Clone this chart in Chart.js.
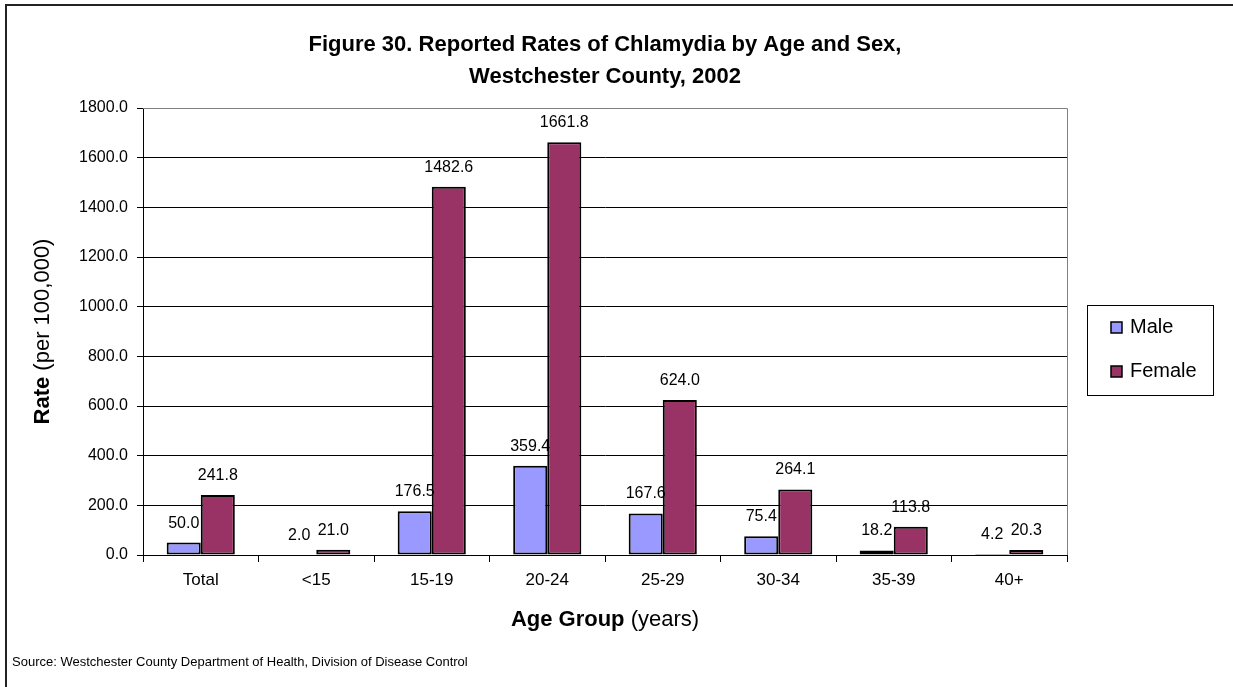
<!DOCTYPE html>
<html>
<head>
<meta charset="utf-8">
<script src="https://cdn.jsdelivr.net/npm/chart.js@4.4.0/dist/chart.umd.min.js"></script>
<style>
  body { margin: 0; background: #fff; }
  #wrap { width: 1233px; height: 687px; }
</style>
</head>
<body>
<div id="wrap"><canvas id="rateChart" width="1233" height="687"></canvas></div>
<script>
const ageGroups = ["Total", "<15", "15-19", "20-24", "25-29", "30-34", "35-39", "40+"];
const maleRates = [50.0, 2.0, 176.5, 359.4, 167.6, 75.4, 18.2, 4.2];
const femaleRates = [241.8, 21.0, 1482.6, 1661.8, 624.0, 264.1, 113.8, 20.3];
const titleLines = ["Figure 30. Reported Rates of Chlamydia by Age and Sex,", "Westchester County, 2002"];
const sourceNote = "Source: Westchester County Department of Health, Division of Disease Control";

const FONT = "'Liberation Sans', Arial, sans-serif";

// text, legend, frame and bar labels drawn on top of the chart
const decorations = {
  id: "decorations",
  afterDraw(chart) {
    const ctx = chart.ctx;
    const area = chart.chartArea;
    ctx.save();

    // outer frame
    ctx.strokeStyle = "#222";
    ctx.lineWidth = 2;
    ctx.strokeRect(6, 5, 1400, 1000);

    // plot area border (top & right)
    ctx.strokeStyle = "#808080";
    ctx.lineWidth = 1;
    ctx.beginPath();
    ctx.moveTo(area.left, area.top + 0.5);
    ctx.lineTo(area.right + 0.5, area.top + 0.5);
    ctx.lineTo(area.right + 0.5, area.bottom);
    ctx.stroke();

    // title
    const cx = (area.left + area.right) / 2;
    ctx.fillStyle = "#000";
    ctx.textAlign = "center";
    ctx.textBaseline = "middle";
    ctx.font = "bold 22px " + FONT;
    ctx.fillText(titleLines[0], cx, 45);
    ctx.fillText(titleLines[1], cx, 77);

    // x axis title, bold + normal parts
    drawMixed(ctx, "Age Group ", "(years)", 22, cx, 620);

    // y axis title
    ctx.save();
    ctx.translate(43, (area.top + area.bottom) / 2);
    ctx.rotate(-Math.PI / 2);
    drawMixed(ctx, "Rate ", "(per 100,000)", 22, 0, 0);
    ctx.restore();

    // value labels above bars
    ctx.font = "16px " + FONT;
    ctx.textAlign = "center";
    ctx.textBaseline = "alphabetic";
    ctx.fillStyle = "#000";
    chart.data.datasets.forEach((ds, i) => {
      chart.getDatasetMeta(i).data.forEach((bar, j) => {
        ctx.fillText(ds.data[j].toFixed(1), bar.x, bar.y - 15);
      });
    });

    // legend
    ctx.fillStyle = "#fff";
    ctx.fillRect(1087, 305, 126, 90);
    ctx.strokeStyle = "#000";
    ctx.lineWidth = 1;
    ctx.strokeRect(1087.5, 305.5, 126, 90);
    ctx.font = "20px " + FONT;
    ctx.textAlign = "left";
    ctx.textBaseline = "middle";
    chart.data.datasets.forEach((ds, i) => {
      const y = 327 + i * 44;
      ctx.fillStyle = ds.backgroundColor;
      ctx.fillRect(1111, y - 5, 11, 11);
      ctx.strokeStyle = "#000";
      ctx.lineWidth = 1.5;
      ctx.strokeRect(1111, y - 5, 11, 11);
      ctx.fillStyle = "#000";
      ctx.fillText(ds.label, 1130, y);
    });

    // source line
    ctx.font = "13px " + FONT;
    ctx.fillText(sourceNote, 12, 662);

    ctx.restore();
  }
};

function drawMixed(ctx, boldPart, plainPart, size, x, y) {
  ctx.font = "bold " + size + "px " + FONT;
  const w1 = ctx.measureText(boldPart).width;
  ctx.font = size + "px " + FONT;
  const w2 = ctx.measureText(plainPart).width;
  const start = x - (w1 + w2) / 2;
  ctx.textAlign = "left";
  ctx.textBaseline = "middle";
  ctx.fillStyle = "#000";
  ctx.font = "bold " + size + "px " + FONT;
  ctx.fillText(boldPart, start, y);
  ctx.font = size + "px " + FONT;
  ctx.fillText(plainPart, start + w1, y);
}

new Chart(document.getElementById("rateChart"), {
  type: "bar",
  data: {
    labels: ageGroups,
    datasets: [
      {
        label: "Male",
        data: maleRates,
        backgroundColor: "#9999FF",
        borderColor: "#000",
        borderWidth: 2,
        borderSkipped: false,
      },
      {
        label: "Female",
        data: femaleRates,
        backgroundColor: "#993366",
        borderColor: "#000",
        borderWidth: 2,
        borderSkipped: false,
      },
    ],
  },
  options: {
    responsive: false,
    animation: false,
    layout: {
      padding: { left: 60, top: 108, right: 166, bottom: 92 },
    },
    datasets: {
      bar: { categoryPercentage: 0.59, barPercentage: 1.0 },
    },
    plugins: {
      legend: { display: false },
      title: { display: false },
      tooltip: { enabled: false },
    },
    scales: {
      x: {
        afterFit(scale) { scale.height = 40; },
        grid: { drawOnChartArea: false, drawTicks: true, tickLength: 7, color: "#000" },
        border: { color: "#000", width: 1 },
        ticks: { color: "#000", font: { family: FONT, size: 17 }, padding: 8, maxRotation: 0 },
      },
      y: {
        min: 0,
        max: 1800,
        afterFit(scale) { scale.width = 83; },
        grid: { color: "#000", lineWidth: 1, tickLength: 6 },
        border: { color: "#000", width: 1 },
        ticks: {
          stepSize: 200,
          color: "#000",
          padding: 9,
          font: { family: FONT, size: 16 },
          callback: (v) => v.toFixed(1),
        },
      },
    },
  },
  plugins: [decorations],
});
</script>
</body>
</html>
